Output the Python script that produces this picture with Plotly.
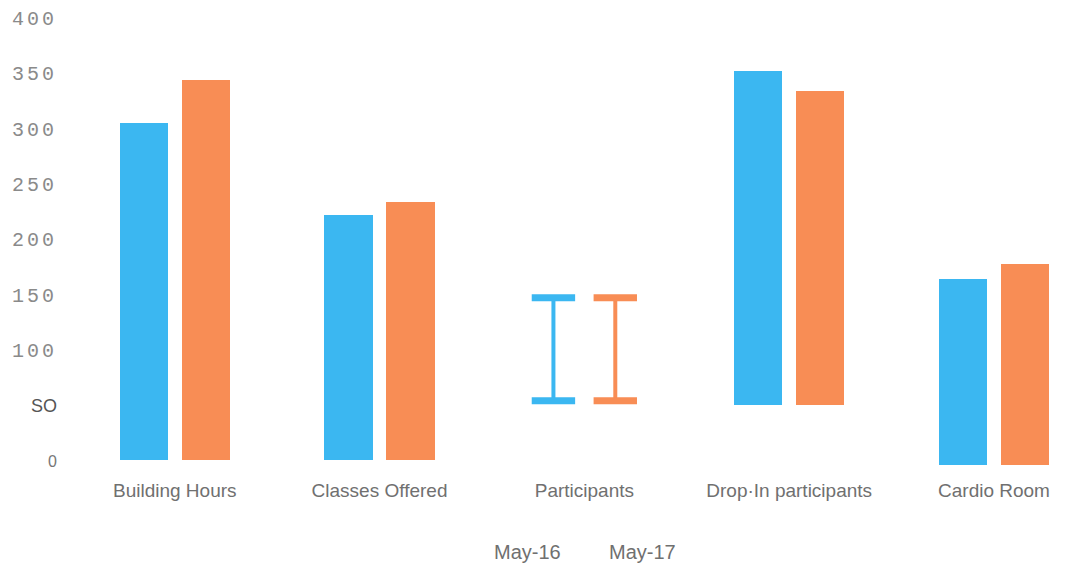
import plotly.graph_objects as go
import numpy as np

categories = ["Building Hours", "Classes Offered", "Participants", "Drop·In participants", "Cardio Room"]
may16_low = [0, 0, 54, 50, -4]
may16_high = [305, 222, 147, 352, 164]
may17_low = [0, 0, 54, 50, -4]
may17_high = [344, 234, 147, 334, 178]
shown_as_range = [False, False, True, False, False]
series_names = ["May-16", "May-17"]
ytick_vals = [0, 50, 100, 150, 200, 250, 300, 350, 400]
ytick_text = ["0", "SO", "100", "150", "200", "250", "300", "350", "400"]

BLUE = "#3BB7F1"
ORANGE = "#F88D55"
colors = [BLUE, ORANGE]
idx = np.arange(len(categories))
half_gap = 0.151
bar_w = 0.236

fig = go.Figure()
for s, (low, high) in enumerate([(may16_low, may16_high), (may17_low, may17_high)]):
    sign = -1 if s == 0 else 1
    bx, by, bb = [], [], []
    for i in idx:
        if not shown_as_range[i]:
            bx.append(i + sign * half_gap)
            by.append(high[i] - low[i])
            bb.append(low[i])
    fig.add_trace(go.Bar(x=bx, y=by, base=bb, width=bar_w, marker_color=colors[s],
                         marker_line_width=0, name=series_names[s], showlegend=False))
    for i in idx:
        if shown_as_range[i]:
            xc = i + sign * half_gap
            fig.add_trace(go.Scatter(x=[xc, xc], y=[low[i], high[i]], mode="lines",
                                     line=dict(color=colors[s], width=4), showlegend=False))
            fig.add_trace(go.Scatter(x=[xc, xc], y=[low[i], high[i]], mode="markers",
                                     marker=dict(symbol="line-ew", size=31,
                                                 line=dict(color=colors[s], width=7)),
                                     showlegend=False))

def ylab(t):
    if t == "SO":
        return '<span style="font-family:Liberation Sans;font-size:18px;color:#555">SO</span>'
    if t == "0":
        return '<span style="font-family:Liberation Sans;font-size:16px;color:#777">0</span>'
    return '<span style="letter-spacing:3px">' + t + '</span>'

fig.update_layout(
    width=1080, height=569,
    margin=dict(l=58, r=0, t=7, b=92),
    plot_bgcolor="white", paper_bgcolor="white",
    bargap=0,
    xaxis=dict(range=[-0.57, 4.42], tickvals=list(idx), ticktext=categories,
               showgrid=False, zeroline=False, showline=False, ticks="",
               tickfont=dict(family="Liberation Sans", size=19, color="#707070")),
    yaxis=dict(range=[-15, 410], tickvals=ytick_vals, ticktext=[ylab(t) for t in ytick_text],
               showgrid=False, zeroline=False, showline=False, ticks="",
               tickfont=dict(family="Liberation Mono", size=20, color="#8a8a8a")),
)
fig.add_annotation(text=series_names[0], x=527, y=552, xref="paper", yref="paper", showarrow=False,
                   font=dict(family="Liberation Sans", size=20, color="#707070"))
fig.add_annotation(text=series_names[1], x=642, y=552, xref="paper", yref="paper", showarrow=False,
                   font=dict(family="Liberation Sans", size=20, color="#707070"))
for a in fig.layout.annotations:
    px, py = a.x, a.y
    a.x = (px - 58) / (1080 - 58)
    a.y = (569 - 92 - py) / (569 - 92 - 7)
    a.yanchor = "middle"
    a.xanchor = "center"

fig.write_html("out.html")
